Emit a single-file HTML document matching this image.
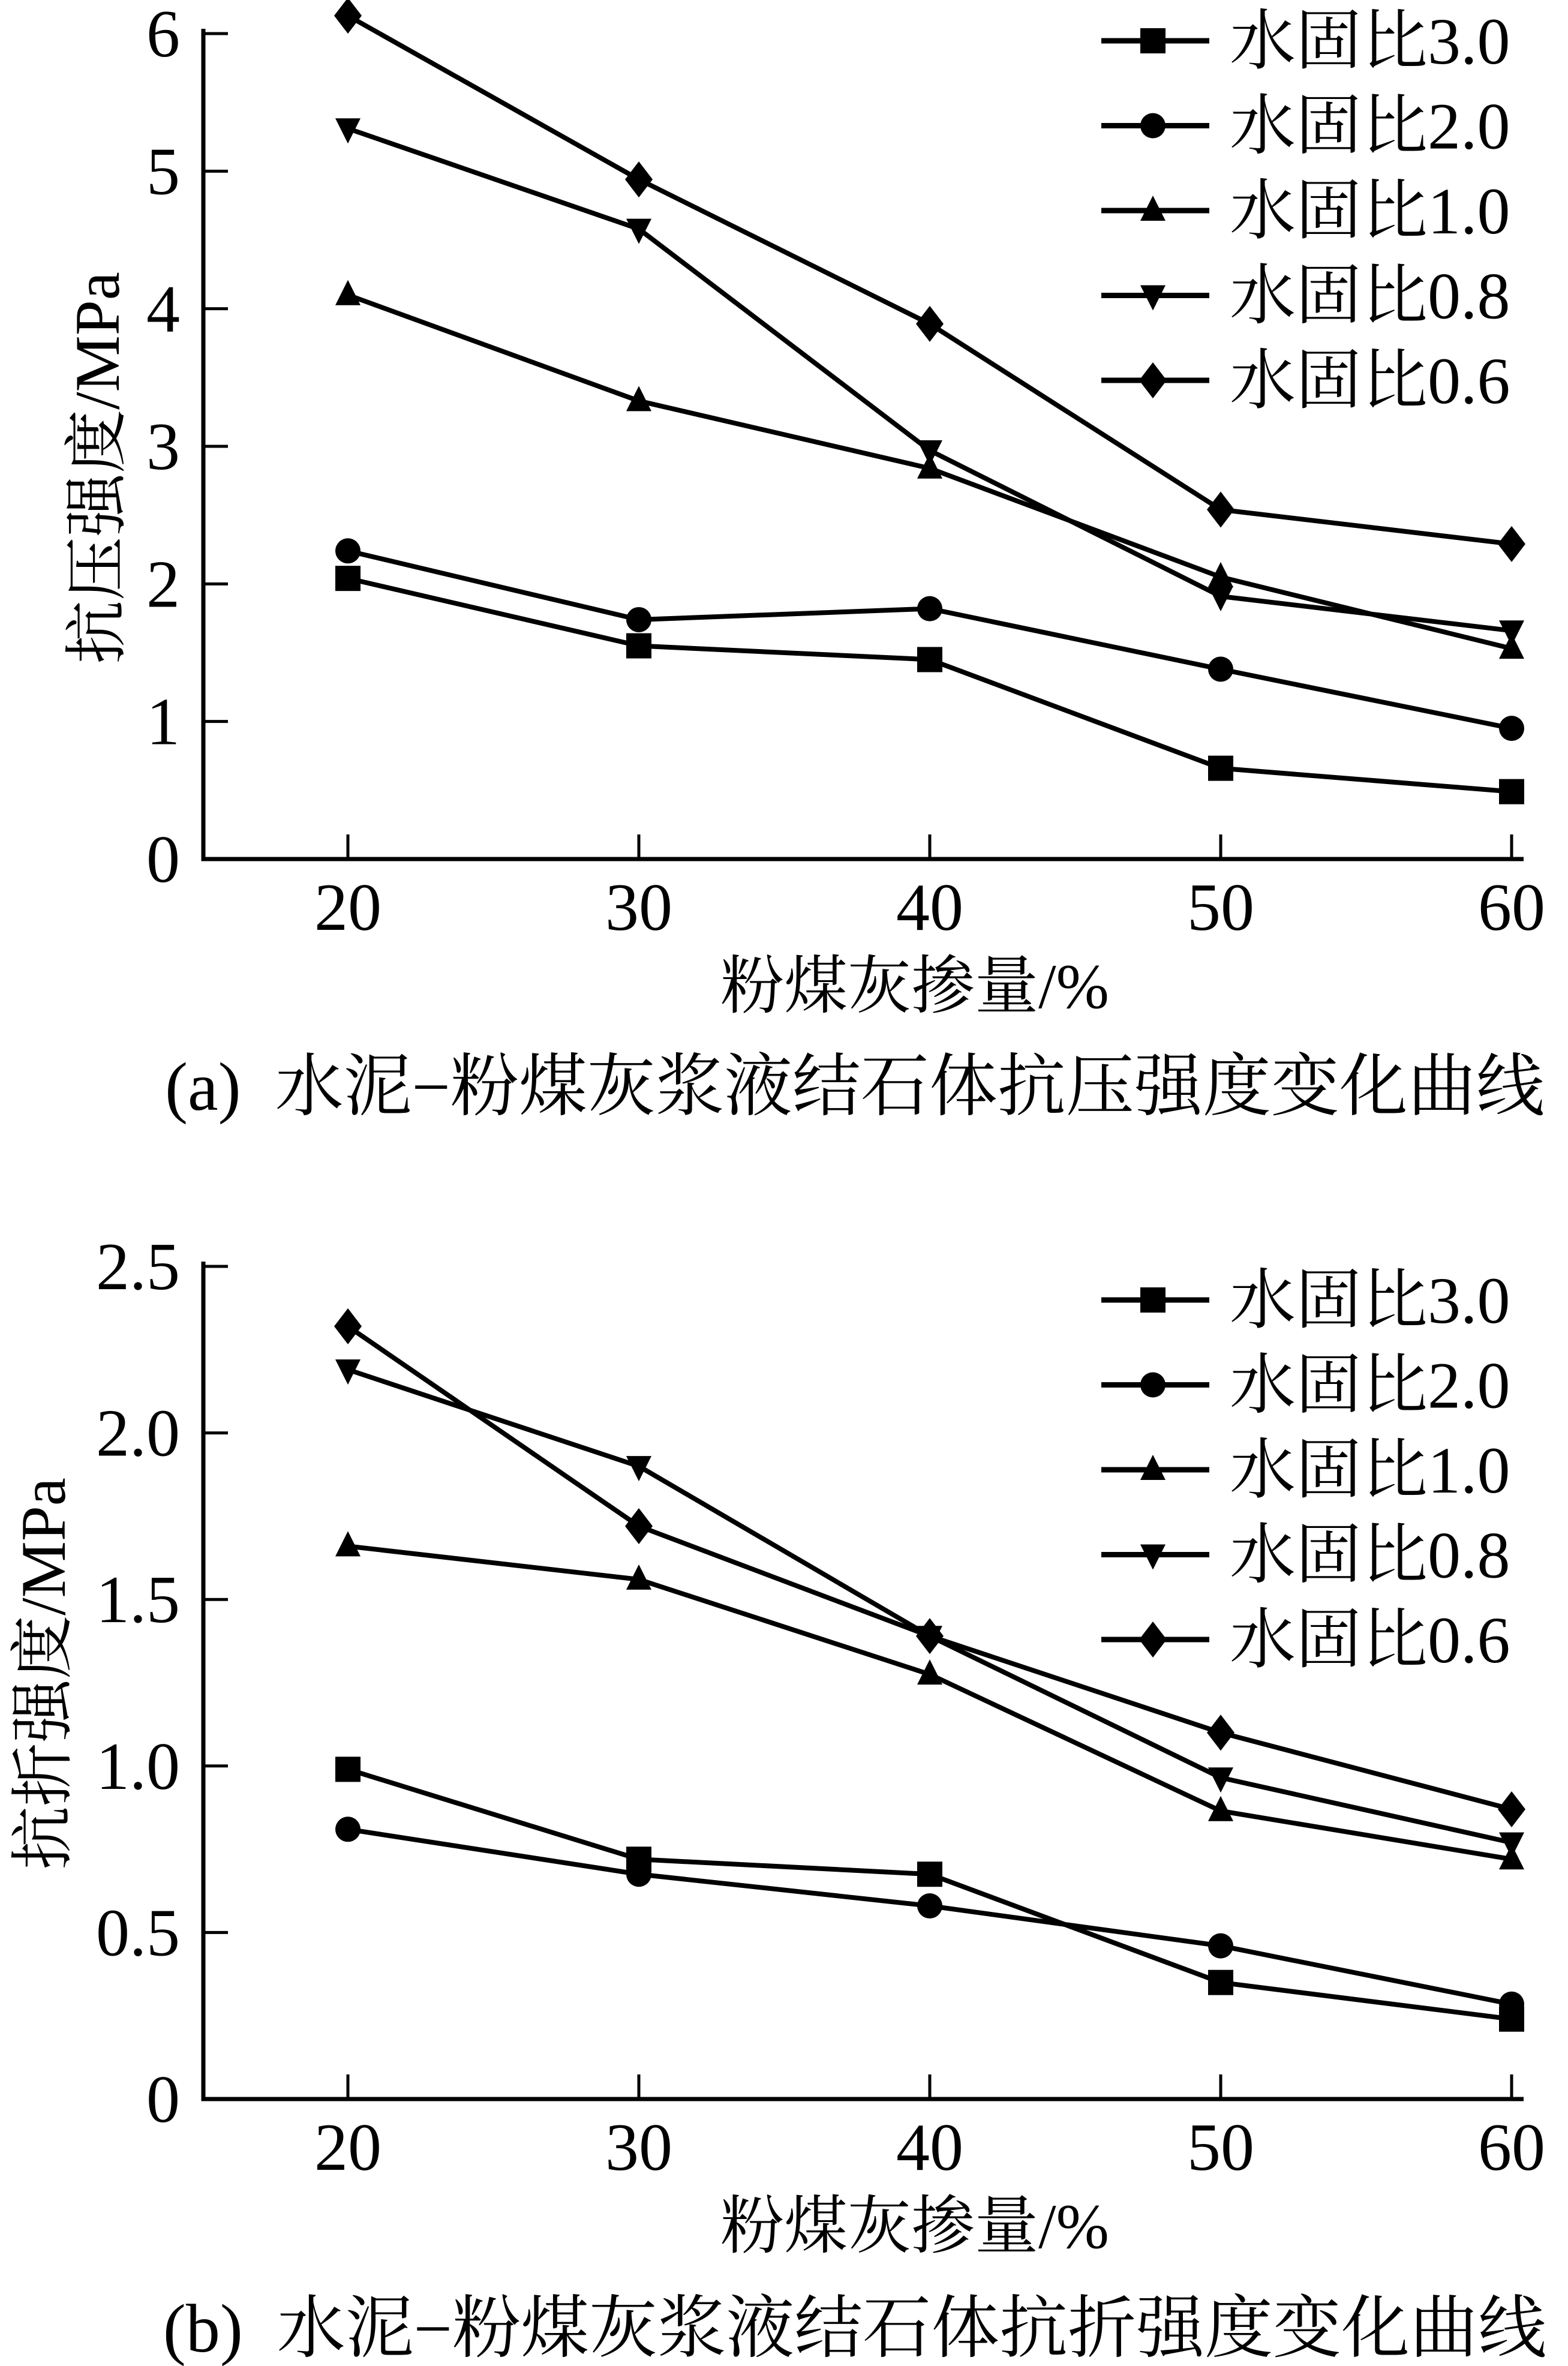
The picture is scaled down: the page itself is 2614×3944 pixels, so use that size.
<!DOCTYPE html>
<html><head><meta charset="utf-8"><style>
html,body{margin:0;padding:0;background:#fff}
svg{display:block}
text{font-family:"Liberation Serif","Noto Serif CJK SC",serif;fill:#000}
</style></head><body>
<svg id="fig" width="2614" height="3944" viewBox="0 0 2614 3944" xmlns="http://www.w3.org/2000/svg"></svg>
<script>
const categories = [20, 30, 40, 50, 60];
const seriesNames = ["水固比3.0", "水固比2.0", "水固比1.0", "水固比0.8", "水固比0.6"];
const markers = ["square", "circle", "tri-up", "tri-down", "diamond"];
const compWR30 = [2.04, 1.55, 1.45, 0.66, 0.49];
const compWR20 = [2.24, 1.74, 1.82, 1.38, 0.95];
const compWR10 = [4.10, 3.33, 2.84, 2.05, 1.53];
const compWR08 = [5.31, 4.58, 2.97, 1.91, 1.66];
const compWR06 = [6.13, 4.94, 3.89, 2.54, 2.29];
const flexWR30 = [0.99, 0.72, 0.675, 0.35, 0.24];
const flexWR20 = [0.81, 0.675, 0.58, 0.46, 0.285];
const flexWR10 = [1.66, 1.56, 1.275, 0.865, 0.72];
const flexWR08 = [2.19, 1.90, 1.39, 0.965, 0.77];
const flexWR06 = [2.32, 1.72, 1.39, 1.10, 0.87];
const yTicksA = [0, 1, 2, 3, 4, 5, 6];
const yTickLabelsA = ["0", "1", "2", "3", "4", "5", "6"];
const yTicksB = [0, 0.5, 1.0, 1.5, 2.0, 2.5];
const yTickLabelsB = ["0", "0.5", "1.0", "1.5", "2.0", "2.5"];

const NS = "http://www.w3.org/2000/svg";
const svg = document.getElementById("fig");
function el(tag, attrs, parent) {
  const e = document.createElementNS(NS, tag);
  for (const k in attrs) e.setAttribute(k, attrs[k]);
  (parent || svg).appendChild(e);
  return e;
}
function marker(g, type, cx, cy) {
  let m;
  if (type === "square") m = el("rect", {x: cx - 21, y: cy - 21, width: 42, height: 42}, g);
  else if (type === "circle") m = el("circle", {cx: cx, cy: cy, r: 21}, g);
  else if (type === "tri-up") m = el("polygon", {points: `${cx},${cy-25} ${cx+21},${cy+17} ${cx-21},${cy+17}`}, g);
  else if (type === "tri-down") m = el("polygon", {points: `${cx},${cy+25} ${cx+21},${cy-17} ${cx-21},${cy-17}`}, g);
  else m = el("polygon", {points: `${cx},${cy-30} ${cx+23},${cy} ${cx},${cy+30} ${cx-23},${cy}`}, g);
  m.setAttribute("fill", "#000");
  
  
}

function chart(cfg) {
  const g = el("g", {});
  
  
  const xS = v => 580 + (v - 20) * (2520 - 580) / 40;
  const yS = v => cfg.y0 - v * (cfg.y0 - cfg.yTop) / cfg.yMax;
  const ax = el("path", {d: `M339 ${cfg.yTop - 8} V${cfg.y0} H2540`, fill: "none", stroke: "#000", "stroke-width": 7}, g);
  
  
  cfg.yTicks.forEach((t, i) => {
    const y = yS(t);
    if (t > 0) {
      const tk = el("line", {x1: 339, x2: 380, y1: y, y2: y, stroke: "#000", "stroke-width": 5}, g);
      
      
    }
    const tx = el("text", {x: 300, y: y + 38, "font-size": 112, "text-anchor": "end"}, g);
    tx.textContent = cfg.yLabels[i];
    
    
  });
  categories.forEach(c => {
    const x = xS(c);
    const tk = el("line", {x1: x, x2: x, y1: cfg.y0, y2: cfg.y0 - 41, stroke: "#000", "stroke-width": 5}, g);
    
    
    const tx = el("text", {x: x, y: cfg.y0 + 118, "font-size": 112, "text-anchor": "middle"}, g);
    tx.textContent = c;
    
    
  });
  const xt = el("text", {x: 1525, y: cfg.y0 + 248, "font-size": 106, "text-anchor": "middle"}, g);
  xt.textContent = "粉煤灰掺量/%";
  
  
  const yt = el("text", {x: 0, y: 0, "font-size": 106, "text-anchor": "middle", transform: `translate(${cfg.yTitleX} ${cfg.yTitleC}) rotate(-90)`}, g);
  yt.textContent = cfg.yTitle;
  
  
  const cap = el("text", {x: 1425, y: cfg.capY, "font-size": 114, "text-anchor": "middle"}, g);
  cap.textContent = cfg.caption;
  
  
  cfg.series.forEach((vals, si) => {
    const sg = el("g", {}, g);
    
    
    const pts = vals.map((v, i) => xS(categories[i]) + "," + yS(v)).join(" ");
    const pl = el("polyline", {points: pts, fill: "none", stroke: "#000", "stroke-width": 8, "stroke-linejoin": "round"}, sg);
    
    
    vals.forEach((v, i) => marker(sg, markers[si], xS(categories[i]), yS(v)));
    const ly = cfg.legY + si * 141.5;
    const lg = el("g", {}, g);
    
    
    const ll = el("line", {x1: 1836, x2: 2016, y1: ly, y2: ly, stroke: "#000", "stroke-width": 9}, lg);
    
    
    marker(lg, markers[si], 1922, ly);
    const lt = el("text", {x: 2050, y: ly + 38, "font-size": 110}, lg);
    lt.textContent = seriesNames[si];
    
    
  });
}

chart({name: "chart-compressive", y0: 1432, yTop: 56, yMax: 6, yTicks: yTicksA, yLabels: yTickLabelsA,
  yTitle: "抗压强度/MPa", yTitleX: 198, yTitleC: 780, capY: 1850, legY: 68,
  caption: "(a)\u00a0\u00a0水泥−粉煤灰浆液结石体抗压强度变化曲线",
  series: [compWR30, compWR20, compWR10, compWR08, compWR06]});
chart({name: "chart-flexural", y0: 3499, yTop: 2111, yMax: 2.5, yTicks: yTicksB, yLabels: yTickLabelsB,
  yTitle: "抗折强度/MPa", yTitleX: 108, yTitleC: 2790, capY: 3920, legY: 2167,
  caption: "(b)\u00a0\u00a0水泥−粉煤灰浆液结石体抗折强度变化曲线",
  series: [flexWR30, flexWR20, flexWR10, flexWR08, flexWR06]});
</script>
</body></html>
